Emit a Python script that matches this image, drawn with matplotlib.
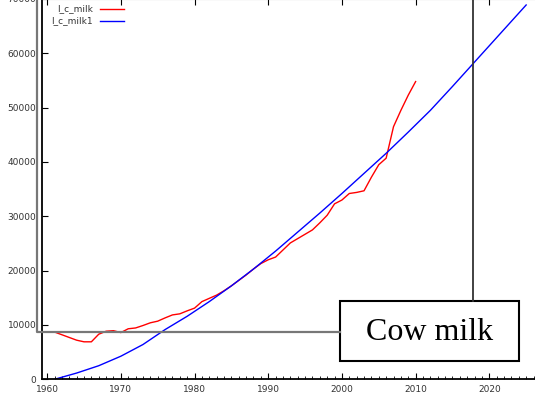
import matplotlib.pyplot as plt
from matplotlib.lines import Line2D
from matplotlib.patches import Rectangle
from matplotlib.ticker import MultipleLocator

# data
years_milk = list(range(1961, 2011))
milk = [8700, 8200, 7700, 7200, 6900, 6900, 8300, 8850, 8950, 8600,
        9300, 9450, 9900, 10400, 10700, 11300, 11850, 12050, 12600, 13100,
        14300, 14900, 15500, 16300, 17200, 18200, 19200, 20300, 21300, 22000,
        22500, 23800, 25100, 25900, 26700, 27500, 28800, 30200, 32300, 33000,
        34200, 34400, 34700, 37200, 39500, 40700, 46500, 49500, 52300, 54800]

years_fit = [1961, 1964, 1967, 1970, 1973, 1976, 1979, 1982, 1985, 1988,
             1991, 1994, 1997, 2000, 2003, 2006, 2009, 2012, 2015, 2018,
             2021, 2025]
milk_fit = [0, 1150, 2500, 4250, 6400, 9150, 11600, 14300, 17200, 20300,
            23600, 27100, 30600, 34200, 37900, 41600, 45500, 49500, 53900, 58400,
            62900, 68900]

labels = ["I_c_milk", "I_c_milk1"]
colors = ["red", "blue"]
box_text = "Cow milk"

W, H = 535, 413
fig = plt.figure(figsize=(W / 100, H / 100), dpi=100)

def fx(px):
    return px / W

def fy(py):
    return 1 - py / H

ax = fig.add_axes([fx(42), fy(379.3), fx(535) - fx(42), fy(-1) - fy(379.3)])
ax.plot(years_milk, milk, color=colors[0], lw=1)
ax.plot(years_fit, milk_fit, color=colors[1], lw=1)
ax.set_xlim(1959.3, 2026.2)
ax.set_ylim(0, 70000)

ax.xaxis.set_major_locator(MultipleLocator(10))
ax.xaxis.set_minor_locator(MultipleLocator(1))
ax.yaxis.set_major_locator(MultipleLocator(10000))
ax.tick_params(axis="both", which="major", direction="in", length=4, width=0.8,
               labelsize=6.5, labelcolor="#333333", pad=4)
ax.tick_params(axis="x", which="major", top=True)
ax.tick_params(axis="x", which="minor", direction="in", length=2, width=0.6)
for s in ["left", "bottom"]:
    ax.spines[s].set_linewidth(1.3)
ax.spines["top"].set_color("#999999")
ax.spines["right"].set_visible(False)

# legend, text right-aligned before the line sample
for i, (lab, c) in enumerate(zip(labels, colors)):
    yy = 9 + 12 * i
    fig.text(fx(93), fy(yy), lab, ha="right", va="center", fontsize=6.5,
             color="#333333")
    fig.add_artist(Line2D([fx(100), fx(124)], [fy(yy), fy(yy)], color=c, lw=1))

# annotation connectors
fig.add_artist(Line2D([fx(37), fx(37), fx(340)], [fy(0), fy(331.5), fy(331.5)],
                      color="#777777", lw=1.6))
fig.add_artist(Line2D([fx(473), fx(473)], [fy(0), fy(301)], color="#333333", lw=1.3))

fig.add_artist(Rectangle((fx(340), fy(361)), fx(519) - fx(340), fy(301) - fy(361),
                         transform=fig.transFigure, facecolor="white",
                         edgecolor="black", lw=1.5))
fig.text(fx(429.5), fy(332), box_text, ha="center", va="center", fontsize=23,
         family="Liberation Serif")

fig.savefig("out.png", dpi=100)
